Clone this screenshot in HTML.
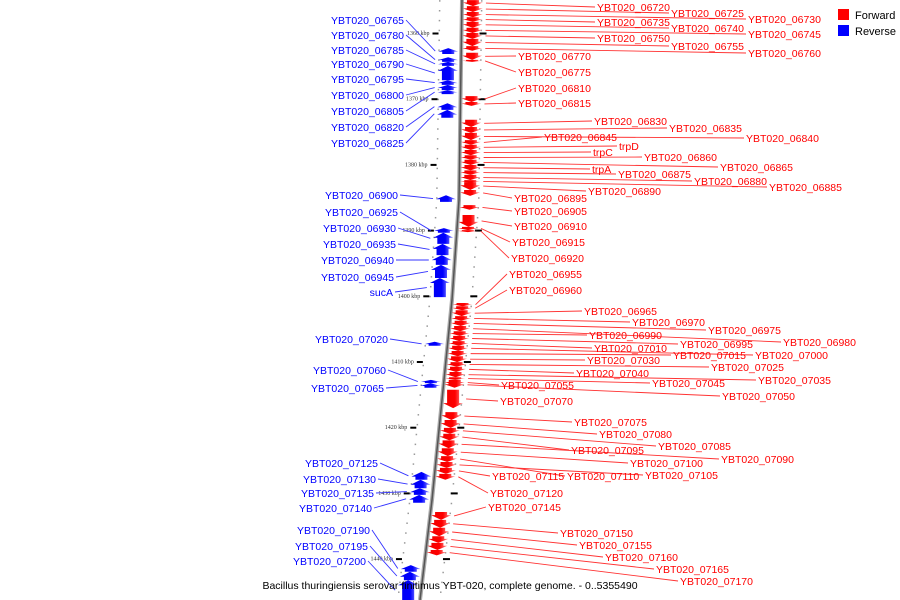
<!DOCTYPE html>
<html><head><meta charset="utf-8">
<style>
html,body{margin:0;padding:0;background:#fff;}
svg{display:block;font-family:"Liberation Sans","DejaVu Sans",sans-serif;}
</style></head>
<body>
<svg id="map" width="900" height="600" viewBox="0 0 900 600">
<defs>
<linearGradient id="gr" x1="0" x2="1" y1="0" y2="0"><stop offset="0" stop-color="#e00"/><stop offset="0.6" stop-color="#f00"/><stop offset="1" stop-color="#f99"/></linearGradient>
<linearGradient id="gb" x1="0" x2="1" y1="0" y2="0"><stop offset="0" stop-color="#00e"/><stop offset="0.6" stop-color="#00f"/><stop offset="1" stop-color="#99f"/></linearGradient>
</defs>
<g id="bg"></g>
<g id="ticks"></g>
<g id="lines"></g>
<g id="genes"></g>
<g id="labels"></g>
<g>
<rect x="838" y="9" width="11" height="11" fill="#f00"/>
<text x="855" y="19" font-size="11" fill="#000">Forward</text>
<rect x="838" y="25" width="11" height="11" fill="#00f"/>
<text x="855" y="35" font-size="11" fill="#000">Reverse</text>
</g>
<text x="450" y="589" font-size="10.5" text-anchor="middle" fill="#000">Bacillus thuringiensis serovar finitimus YBT-020, complete genome. - 0..5355490</text>
</svg>
<script>
// Forward genes (kbp)
const redNames=["YBT020_06720","YBT020_06725","YBT020_06730","YBT020_06735","YBT020_06740","YBT020_06745","YBT020_06750","YBT020_06755","YBT020_06760","YBT020_06770","YBT020_06775","YBT020_06810","YBT020_06815","YBT020_06830","YBT020_06835","YBT020_06840","YBT020_06845","trpD","trpC","YBT020_06860","YBT020_06865","trpA","YBT020_06875","YBT020_06880","YBT020_06885","YBT020_06890","YBT020_06895","YBT020_06905","YBT020_06910","YBT020_06915","YBT020_06920","YBT020_06955","YBT020_06960","YBT020_06965","YBT020_06970","YBT020_06975","YBT020_06980","YBT020_06990","YBT020_06995","YBT020_07010","YBT020_07000","YBT020_07015","YBT020_07030","YBT020_07025","YBT020_07040","YBT020_07035","YBT020_07045","YBT020_07055","YBT020_07050","YBT020_07070","YBT020_07075","YBT020_07080","YBT020_07085","YBT020_07095","YBT020_07090","YBT020_07100","YBT020_07110","YBT020_07105","YBT020_07115","YBT020_07120","YBT020_07145","YBT020_07150","YBT020_07155","YBT020_07160","YBT020_07165","YBT020_07170"];
const redStart=[1355.0,1355.9,1356.8,1357.6,1358.3,1359.2,1360.0,1360.9,1362.0,1363.0,1364.1,1369.6,1370.5,1373.2,1374.3,1375.2,1376.3,1377.0,1377.8,1378.6,1379.3,1380.1,1380.9,1381.6,1382.4,1382.7,1383.9,1386.2,1387.7,1389.5,1390.0,1401.1,1401.6,1402.2,1403.1,1403.8,1404.6,1405.4,1406.1,1406.9,1407.6,1408.4,1409.2,1410.1,1410.8,1411.6,1412.4,1412.8,1413.1,1414.3,1417.7,1418.9,1420.1,1421.0,1422.0,1423.2,1424.4,1425.3,1426.2,1427.1,1432.9,1434.1,1435.3,1436.6,1437.6,1438.7];
const redEnd=[1355.9,1356.8,1357.6,1358.3,1359.2,1360.0,1360.9,1362.0,1362.7,1364.1,1364.4,1370.5,1371.1,1374.3,1375.2,1376.3,1377.0,1377.8,1378.6,1379.3,1380.1,1380.9,1381.6,1382.4,1382.8,1383.9,1384.8,1386.9,1389.5,1390.0,1390.3,1401.6,1402.2,1403.1,1403.8,1404.6,1405.4,1406.1,1406.9,1407.6,1408.4,1409.2,1410.1,1410.8,1411.6,1412.4,1412.8,1413.6,1414.0,1417.1,1418.9,1420.1,1421.0,1422.0,1423.2,1424.4,1425.3,1426.2,1427.1,1428.0,1434.1,1435.3,1436.6,1437.6,1438.7,1439.5];
// Reverse genes (kbp)
const blueNames=["YBT020_06765","YBT020_06780","YBT020_06785","YBT020_06790","YBT020_06795","YBT020_06800","YBT020_06805","YBT020_06820","YBT020_06825","YBT020_06900","YBT020_06925","YBT020_06930","YBT020_06935","YBT020_06940","YBT020_06945","sucA","YBT020_07020","YBT020_07060","YBT020_07065","YBT020_07125","YBT020_07130","YBT020_07135","YBT020_07140","YBT020_07190","YBT020_07195","YBT020_07200"];
const blueStart=[1362.3,1363.7,1364.4,1365.0,1367.2,1367.9,1368.7,1370.7,1371.7,1384.7,1389.7,1390.4,1392.1,1393.8,1395.3,1397.3,1407.0,1412.8,1413.3,1426.8,1428.0,1429.3,1430.3,1441.0,1442.0,1443.3];
const blueEnd=[1363.2,1364.4,1365.0,1367.2,1367.9,1368.7,1369.3,1371.7,1372.9,1385.7,1390.4,1392.1,1393.8,1395.3,1397.3,1400.2,1407.6,1413.3,1414.0,1428.0,1429.3,1430.3,1431.5,1442.0,1443.3,1446.3];
const tickKbp=[1360,1370,1380,1390,1400,1410,1420,1430,1440];
const tickLabels=["1360 kbp","1370 kbp","1380 kbp","1390 kbp","1400 kbp","1410 kbp","1420 kbp","1430 kbp","1440 kbp"];

// layout (label positions)
const redLX=[597,671,748,597,671,748,597,671,748,518,518,518,518,594,669,746,544,619,593,644,720,592,618,694,769,588,514,514,514,512,511,509,509,584,632,708,783,589,680,594,755,673,587,711,576,758,652,501,722,500,574,599,658,571,721,630,567,645,492,490,488,560,579,605,656,680];
const redLY=[7,13,19,22,28,34,38,46,53,56,72,88,103,121,128,138,137,146,152,157,167,169,174,181,187,191,198,211,226,242,258,274,290,311,322,330,342,335,344,348,355,355,360,367,373,380,383,385,396,401,422,434,446,450,459,463,476,475,476,493,507,533,545,557,569,581];
const blueRX=[404,404,404,404,404,404,404,404,404,398,398,396,396,394,394,393,388,386,384,378,376,374,372,370,368,366];
const blueLY=[20,35,50,64,79,95,111,127,143,195,212,228,244,260,277,292,339,370,388,463,479,493,508,530,546,561];

const NS="http://www.w3.org/2000/svg";
function yScale(k){return 33+(k-1360)*6.57;}
const bbPts=[[0,462],[200,459],[300,452],[400,442],[500,432],[600,420]];
function bx(y){for(let i=1;i<bbPts.length;i++){if(y<=bbPts[i][0]){const a=bbPts[i-1],b=bbPts[i];return a[1]+(b[1]-a[1])*(y-a[0])/(b[0]-a[0]);}}return 420;}
function mk(tag,attrs,parent){const e=document.createElementNS(NS,tag);for(const k in attrs)e.setAttribute(k,attrs[k]);parent.appendChild(e);return e;}

const bg=document.getElementById('bg');
const bpts=bbPts.map(p=>p[1]+','+p[0]).join(' ');
let bl=mk('polyline',{points:bpts,fill:'none',stroke:'#aaa','stroke-width':4},bg);


let bl2=mk('polyline',{points:bpts,fill:'none',stroke:'#555','stroke-width':1.5},bg);



const tk=document.getElementById('ticks');
for(let k=1355;k<=1447;k+=1.5){const y=yScale(k);if(y<0||y>600)continue;const x=bx(y);
 let d1=mk('rect',{x:x-23,y:y,width:1.5,height:1.5,fill:'#999'},tk);
 
 
 let d2=mk('rect',{x:x+19,y:y,width:1.5,height:1.5,fill:'#999'},tk);
 
 }
tickKbp.forEach((k,i)=>{const y=yScale(k),x=bx(y);
 let t1=mk('rect',{x:x-29,y:y-0.5,width:6,height:2,fill:'#000'},tk);
 
 
 let t2=mk('rect',{x:x+18,y:y-0.5,width:7,height:2,fill:'#000'},tk);
 
 
 let tt=mk('text',{x:x-32,y:y+2,'font-size':6,'text-anchor':'end',fill:'#333','font-family':'Liberation Serif, serif'},tk);
 tt.textContent=tickLabels[i];
 
 });

const G=document.getElementById('genes'),L=document.getElementById('lines'),T=document.getElementById('labels');
redNames.forEach((n,i)=>{const y0=yScale(redStart[i]),y1=yScale(redEnd[i]);const x=bx((y0+y1)/2);
 const h=Math.min(5,(y1-y0)*0.6);
 const pts=[[x+5,y0],[x+17,y0],[x+17,y1-h],[x+21,y1-h],[x+11,y1],[x+1,y1-h],[x+5,y1-h]].map(p=>p.join(',')).join(' ');
 let g=mk('polygon',{points:pts,fill:'url(#gr)'},G);
 
 
 const ym=(y0+y1)/2;
 let l=mk('line',{x1:x+24,y1:ym,x2:redLX[i]-2,y2:redLY[i],stroke:'#f33','stroke-width':0.9},L);
 
 
 let t=mk('text',{x:redLX[i],y:redLY[i]+4,'font-size':10.5,fill:'#f00'},T);
 t.textContent=n;
 
 });
blueNames.forEach((n,i)=>{const y0=yScale(blueStart[i]),y1=yScale(blueEnd[i]);const x=bx((y0+y1)/2);
 const h=Math.min(5,(y1-y0)*0.6);
 const pts=[[x-7,y1],[x-19,y1],[x-19,y0+h],[x-23,y0+h],[x-13,y0],[x-3,y0+h],[x-7,y0+h]].map(p=>p.join(',')).join(' ');
 let g=mk('polygon',{points:pts,fill:'url(#gb)'},G);
 
 
 const ym=(y0+y1)/2;
 let l=mk('line',{x1:x-26,y1:ym,x2:blueRX[i]+2,y2:blueLY[i],stroke:'#33f','stroke-width':0.9},L);
 
 
 let t=mk('text',{x:blueRX[i],y:blueLY[i]+4,'font-size':10.5,fill:'#00f','text-anchor':'end'},T);
 t.textContent=n;
 
 });
</script>
</body></html>
